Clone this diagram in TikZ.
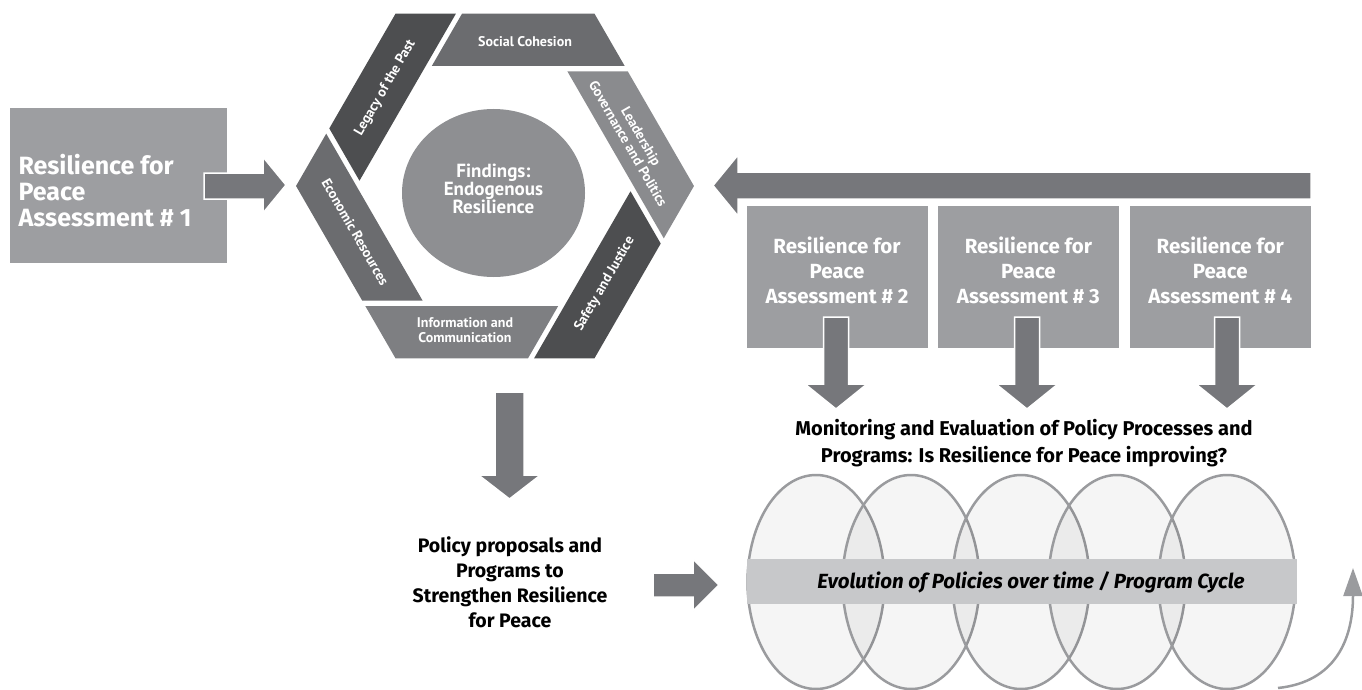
\documentclass[tikz,border=0pt]{standalone}
\usepackage{fontspec}
\setmainfont{PT Sans}
\newfontfamily\widesans{Fira Sans}
\usetikzlibrary{positioning,arrows.meta,shapes.geometric}

\definecolor{boxgray}{HTML}{9D9EA1}
\definecolor{arrowgray}{HTML}{76777B}
\definecolor{hexdark}{HTML}{4D4E50}
\definecolor{hexmid}{HTML}{6B6C6F}
\definecolor{hexinfo}{HTML}{7E7F82}
\definecolor{hexlight}{HTML}{8A8B8E}
\definecolor{circgray}{HTML}{8E8F92}
\definecolor{bandgray}{HTML}{C7C8CA}
\definecolor{ringgray}{HTML}{9A9B9E}

\tikzset{
  assessbox/.style={fill=boxgray, minimum width=181pt, minimum height=142pt, inner sep=0pt},
  assesstext/.style={text=white, font=\widesans\bfseries\fontsize{20.5}{25}\selectfont, align=center},
  blockarrow/.style={fill=arrowgray, draw=white, line width=1.5pt, line join=miter},
  segtext/.style={text=white, font=\bfseries\fontsize{14}{15}\selectfont, align=center},
  blacktext/.style={font=\widesans\bfseries\fontsize{19.5}{25}\selectfont, align=center},
  ring/.style={ellipse, draw=ringgray, line width=2.5pt, fill=black, fill opacity=0.04,
    minimum width=137pt, minimum height=214pt, inner sep=0pt}
}

\begin{document}
\begin{tikzpicture}[x=1pt,y=-1pt]
\useasboundingbox (0,0) rectangle (1362,690);

% first assessment
\node[assessbox, minimum width=217pt, minimum height=155pt] (ra1) at (118.5,185.5) {};
\node[assesstext, font=\widesans\bfseries\fontsize{25}{26}\selectfont, align=left, anchor=west] (ra1txt) at (15,191)
  {Resilience for\\Peace\\Assessment \# 1};
\filldraw[blockarrow] (204,173) -- (263,173) -- (263,157) -- (286,185) -- (263,213) -- (263,199) -- (204,199) -- cycle;

% hexagon of factors
\foreach \k/\col/\rot/\lbl in {0/hexmid/0/{Social Cohesion},
    1/hexlight/-60/{Leadership\\Governance and Politics},
    2/hexdark/60/{Safety and Justice},
    3/hexinfo/0/{Information and\\Communication},
    4/hexmid/-60/{Economic Resources},
    5/hexdark/60/{Legacy of the Past}}{
  \begin{scope}[rotate around={-60*\k:(495,186)}]
    \fill[\col] (462,13.7) -- (594.5,13.7) -- (624.7,66) -- (431.8,66) -- cycle;
    \node[segtext, rotate=\rot] (seg\k) at (525,42) {\lbl};
  \end{scope}
}
\node[ellipse, fill=circgray, minimum width=183pt, minimum height=168pt, inner sep=0pt] (find) at (493.5,193) {};
\node[segtext, font=\bfseries\fontsize{19}{18}\selectfont] (findtxt) at ([yshift=4pt]find.center)
  {Findings:\\Endogenous\\Resilience};

% feedback arrow
\filldraw[blockarrow] (1311,172) -- (738,172) -- (738,155) -- (713,185.5) -- (738,216) -- (738,199) -- (1311,199) -- cycle;

% later assessments
\node[assessbox] (ra2) at (837,277) {};
\node[assessbox, right=10pt of ra2] (ra3) {};
\node[assessbox, right=10.5pt of ra3] (ra4) {};
\foreach \n in {2,3,4}
  \node[assesstext] (ra\n txt) at ([yshift=7pt]ra\n.center) {Resilience for\\Peace\\Assessment \# \n};
\foreach \cx in {836,1027,1227}
  \filldraw[blockarrow] (\cx-12.5,317) -- (\cx+12.5,317) -- (\cx+12.5,384) -- (\cx+31,384)
    -- (\cx,409) -- (\cx-31,384) -- (\cx-12.5,384) -- cycle;

% policies
\filldraw[blockarrow] (495,392) -- (524,392) -- (524,475) -- (540.5,475) -- (509.5,499)
  -- (478.5,475) -- (495,475) -- cycle;
\node[blacktext] (policy) at (510,582)
  {Policy proposals and\\Programs to\\Strengthen Resilience\\for Peace};
\filldraw[blockarrow] (653,573) -- (693,573) -- (693,559) -- (719,585) -- (693,611) -- (693,597) -- (653,597) -- cycle;

% monitoring cycle
\node[blacktext, font=\widesans\bfseries\fontsize{20}{27}\selectfont] (monitor) at (1024,443)
  {Monitoring and Evaluation of Policy Processes and\\Programs: Is Resilience for Peace improving?};
\foreach \ex [count=\i] in {816,911,1021,1117,1227}
  \node[ring] (cyc\i) at (\ex,582) {};
\node[fill=bandgray, minimum width=550pt, minimum height=45pt, inner sep=0pt] (band) at (1022,581.5) {};
\node[font=\widesans\bfseries\itshape\fontsize{20.5}{22}\selectfont] (bandtxt) at (1031,582)
  {Evolution of Policies over time / Program Cycle};
\coordinate (loopstart) at (1278,688);
\coordinate (looptip) at (1353,568);
\draw[ringgray, line width=2.5pt, -{Triangle[length=28pt,width=19pt]}]
  (loopstart) .. controls (1335,682) and (1353,640) .. (looptip);
\end{tikzpicture}
\end{document}
